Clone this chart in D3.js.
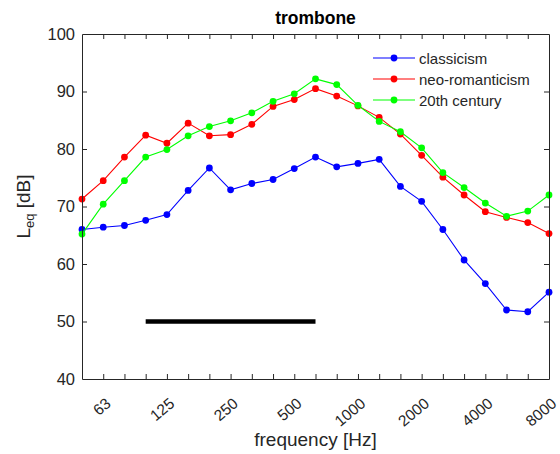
<!DOCTYPE html>
<html><head><meta charset="utf-8">
<script src="https://cdn.jsdelivr.net/npm/d3@7"></script>
<style>body{margin:0;background:#fff;} svg{display:block;font-family:"Liberation Sans",Arial,sans-serif;}</style>
</head><body>
<svg id="c" width="560" height="454"></svg>
<script>
const freqs = ["50","63","80","100","125","160","200","250","315","400","500","630","800","1000","1250","1600","2000","2500","3150","4000","5000","6300","8000"];
const tickLabels = ["63","125","250","500","1000","2000","4000","8000"];
const classicism = [66.0,66.4,66.7,67.6,68.6,72.8,76.7,72.9,74.0,74.7,76.6,78.6,76.9,77.5,78.2,73.5,70.9,66.0,60.7,56.6,52.0,51.7,55.1];
const neoRomanticism = [71.3,74.5,78.6,82.4,81.0,84.5,82.3,82.5,84.3,87.4,88.6,90.5,89.2,87.5,85.5,82.6,78.9,75.1,72.0,69.1,68.1,67.2,65.3];
const century20 = [65.2,70.4,74.5,78.6,79.9,82.3,83.9,84.9,86.3,88.3,89.6,92.2,91.2,87.6,84.8,83.0,80.2,75.9,73.3,70.6,68.3,69.2,72.0];
const barFreqs = ["100","630"];
const barLevel = 50;
const yTicks = [40,50,60,70,80,90,100];
const seriesNames = ["classicism","neo-romanticism","20th century"];
const seriesColors = ["#0000ff","#ff0000","#00ff00"];
const seriesData = [classicism, neoRomanticism, century20];

const L=82, R=549, T=34, B=379;
const svg = d3.select("#c");
const x = d3.scalePoint().domain(freqs).range([L,R]).padding(0);
const y = d3.scaleLinear().domain([40,100]).range([B,T]);
const axc = "#262626";

// black bar
svg.append("line").attr("x1",x(barFreqs[0])).attr("x2",x(barFreqs[1]))
  .attr("y1",y(barLevel)).attr("y2",y(barLevel)).attr("stroke","#000").attr("stroke-width",4.5);

// series
const line = d3.line().x((d,i)=>x(freqs[i])).y(d=>y(d));
seriesData.forEach((arr,si)=>{
  const g = svg.append("g");
  g.append("path").datum(arr).attr("d",line).attr("fill","none").attr("stroke",seriesColors[si]).attr("stroke-width",1.1);
  g.selectAll("circle").data(arr).join("circle").attr("cx",(d,i)=>x(freqs[i])).attr("cy",d=>y(d)).attr("r",3.4).attr("fill",seriesColors[si]);
});

// axes box
const tl = 5;
const gBottom = svg.append("g").attr("transform",`translate(0,${B})`)
  .call(d3.axisBottom(x).tickSizeInner(-tl).tickSizeOuter(0).tickFormat(""));
const gTop = svg.append("g").attr("transform",`translate(0,${T})`)
  .call(d3.axisTop(x).tickSizeInner(-tl).tickSizeOuter(0).tickFormat(""));
const gLeft = svg.append("g").attr("transform",`translate(${L},0)`)
  .call(d3.axisLeft(y).tickValues(yTicks).tickSizeInner(-tl).tickSizeOuter(0).tickPadding(7).tickFormat(d3.format("d")));
const gRight = svg.append("g").attr("transform",`translate(${R},0)`)
  .call(d3.axisRight(y).tickValues(yTicks).tickSizeInner(-tl).tickSizeOuter(0).tickFormat(""));
[gBottom,gTop,gLeft,gRight].forEach(g=>{
  g.selectAll("path").attr("stroke",axc).attr("stroke-width",1);
  g.selectAll("line").attr("stroke",axc).attr("stroke-width",1);
});
[gBottom,gTop].forEach(g=>g.selectAll(".tick").filter(d=>d===freqs[0]||d===freqs[freqs.length-1]).select("line").remove());
[gLeft,gRight].forEach(g=>g.selectAll(".tick").filter(d=>d===40||d===100).select("line").remove());
gLeft.selectAll("text").attr("fill",axc).attr("font-size",16.5).attr("font-family","Liberation Sans, Arial, sans-serif");

// rotated x tick labels
svg.append("g").selectAll("text").data(tickLabels).join("text")
  .attr("transform",d=>`translate(${x(d)+6},${B+23}) rotate(-40)`)
  .attr("text-anchor","end").attr("dominant-baseline","middle")
  .attr("font-size",15.5).attr("fill",axc).text(d=>d);

// title & labels
svg.append("text").attr("x",(L+R)/2).attr("y",24).attr("text-anchor","middle")
  .attr("font-size",17.5).attr("font-weight","bold").attr("fill","#000").text("trombone");
svg.append("text").attr("x",(L+R)/2).attr("y",446).attr("text-anchor","middle")
  .attr("font-size",19).attr("fill",axc).text("frequency [Hz]");
const yl = svg.append("text").attr("transform",`translate(30,${(T+B)/2}) rotate(-90)`).attr("text-anchor","middle")
  .attr("font-size",19).attr("fill",axc);
yl.append("tspan").text("L");
yl.append("tspan").attr("font-size",13).attr("dy",4).text("eq");
yl.append("tspan").attr("dy",-4).text(" [dB]");

// legend
const lg = svg.append("g");
seriesNames.forEach((n,i)=>{
  const yy = 58 + i*21;
  lg.append("line").attr("x1",373).attr("x2",415).attr("y1",yy).attr("y2",yy).attr("stroke",seriesColors[i]).attr("stroke-width",1.1);
  lg.append("circle").attr("cx",394).attr("cy",yy).attr("r",3.4).attr("fill",seriesColors[i]);
  lg.append("text").attr("x",419).attr("y",yy).attr("dominant-baseline","central").attr("font-size",15).attr("fill",axc).text(n);
});
</script>
</body></html>
